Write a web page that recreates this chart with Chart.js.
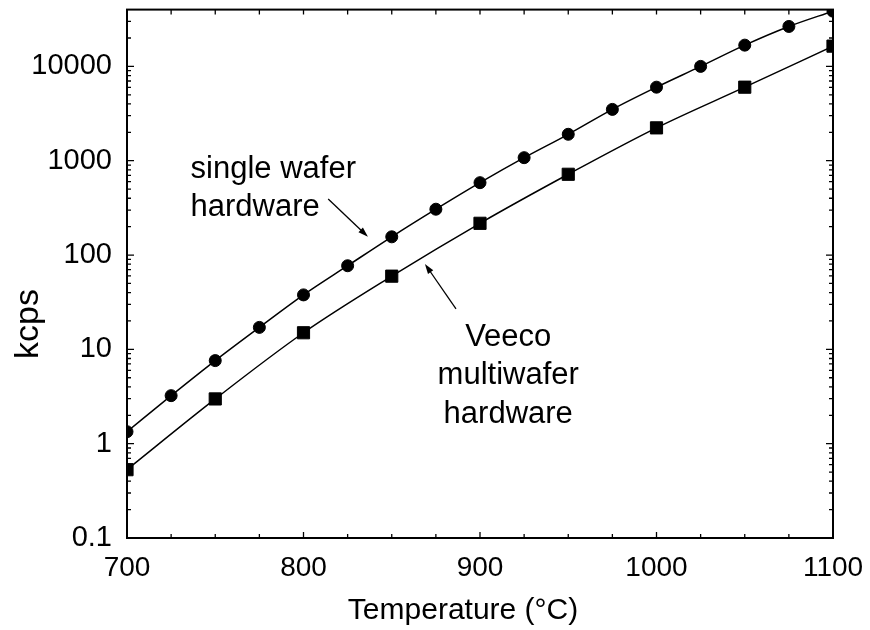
<!DOCTYPE html>
<html>
<head>
<meta charset="utf-8">
<script src="https://cdn.jsdelivr.net/npm/chart.js@4.4.0/dist/chart.umd.min.js"></script>
<style>
  html, body { margin: 0; padding: 0; background: #fff; }
</style>
</head>
<body>
<canvas id="chart" width="870" height="630"></canvas>
<script>
// ---- values ----
const tempSingle = [700, 725, 750, 775, 800, 825, 850, 875, 900, 925, 950, 975, 1000, 1025, 1050, 1075, 1100];
const kcpsSingle = [1.34, 3.23, 7.6, 17.1, 37.8, 77, 156, 306, 585, 1077, 1906, 3500, 6020, 10000, 16800, 26500, 38500];
const tempMulti = [700, 750, 800, 850, 900, 950, 1000, 1050, 1100];
const kcpsMulti = [0.53, 2.98, 15.0, 59.7, 217, 718, 2230, 6020, 16400];
const xTicks = [700, 800, 900, 1000, 1100];
const yTicks = [0.1, 1, 10, 100, 1000, 10000];
const labelSingle = ['single wafer', 'hardware'];
const labelMulti = ['Veeco', 'multiwafer', 'hardware'];

const FONT = '"Liberation Sans", Arial, Helvetica, sans-serif';

const toPoints = (xs, ys) => xs.map((x, i) => ({ x, y: ys[i] }));

function arrow(ctx, x1, y1, x2, y2) {
  const ang = Math.atan2(y2 - y1, x2 - x1);
  const len = 10, half = 3.2;
  ctx.beginPath();
  ctx.moveTo(x1, y1);
  ctx.lineTo(x2 - Math.cos(ang) * len * 0.8, y2 - Math.sin(ang) * len * 0.8);
  ctx.stroke();
  ctx.beginPath();
  ctx.moveTo(x2, y2);
  ctx.lineTo(x2 - Math.cos(ang) * len + Math.sin(ang) * half, y2 - Math.sin(ang) * len - Math.cos(ang) * half);
  ctx.lineTo(x2 - Math.cos(ang) * len - Math.sin(ang) * half, y2 - Math.sin(ang) * len + Math.cos(ang) * half);
  ctx.closePath();
  ctx.fill();
}

// frame, inward ticks, axis titles and the two callouts
const framePlugin = {
  id: 'frame',
  afterDatasetsDraw(chart) {
    const { ctx, chartArea: a, scales: { x, y } } = chart;
    ctx.save();
    ctx.strokeStyle = '#000';
    ctx.fillStyle = '#000';

    ctx.lineWidth = 1.3;
    ctx.beginPath();
    for (let t = x.min; t <= x.max; t += 25) {
      const px = x.getPixelForValue(t);
      const big = t % 100 === 0;
      ctx.moveTo(px, a.bottom); ctx.lineTo(px, a.bottom - (big ? 6 : 4));
      ctx.moveTo(px, a.top); ctx.lineTo(px, a.top + 5);
    }
    for (const d of yTicks) {
      for (let m = 1; m <= 9; m++) {
        const v = d * m;
        if (v >= y.max * 0.999) continue;
        const py = y.getPixelForValue(v);
        const len = m === 1 ? 7 : 4;
        ctx.moveTo(a.left, py); ctx.lineTo(a.left + len, py);
        ctx.moveTo(a.right, py); ctx.lineTo(a.right - len, py);
      }
    }
    ctx.stroke();

    ctx.lineWidth = 2;
    ctx.strokeRect(a.left, a.top, a.right - a.left, a.bottom - a.top);

    // axis titles
    ctx.textAlign = 'center';
    ctx.textBaseline = 'alphabetic';
    ctx.font = '30px ' + FONT;
    ctx.fillText('Temperature (\u00B0C)', a.left + (a.right - a.left) * 0.476, 619);
    ctx.save();
    ctx.translate(38, a.top + (a.bottom - a.top) * 0.595);
    ctx.rotate(-Math.PI / 2);
    ctx.font = '34px ' + FONT;
    ctx.fillText('kcps', 0, 0);
    ctx.restore();

    // callouts
    ctx.font = '31px ' + FONT;
    ctx.textAlign = 'left';
    let bx = x.getPixelForValue(736), by = y.getPixelForValue(656);
    labelSingle.forEach((s, i) => ctx.fillText(s, bx, by + i * 38));
    ctx.textAlign = 'center';
    bx = x.getPixelForValue(916); by = y.getPixelForValue(10.9);
    labelMulti.forEach((s, i) => ctx.fillText(s, bx, by + i * 38.5));

    ctx.lineWidth = 1.3;
    arrow(ctx, x.getPixelForValue(814), y.getPixelForValue(393), x.getPixelForValue(836.5), y.getPixelForValue(156));
    arrow(ctx, x.getPixelForValue(886.4), y.getPixelForValue(26.9), x.getPixelForValue(868.8), y.getPixelForValue(80.5));
    ctx.restore();
  }
};

const lineStyle = {
  borderColor: '#000',
  borderWidth: 1.5,
  pointBackgroundColor: '#000',
  pointBorderColor: '#000',
  pointBorderWidth: 1,
  cubicInterpolationMode: 'monotone',
  clip: 0
};

new Chart(document.getElementById('chart'), {
  type: 'line',
  data: {
    datasets: [
      { ...lineStyle, label: 'single wafer hardware', data: toPoints(tempSingle, kcpsSingle), pointStyle: 'circle', pointRadius: 6 },
      { ...lineStyle, label: 'Veeco multiwafer hardware', data: toPoints(tempMulti, kcpsMulti), pointStyle: 'rect', pointRadius: 8.6 }
    ]
  },
  options: {
    responsive: false,
    animation: false,
    layout: { padding: { top: 8, right: 37, left: 0, bottom: 0 } },
    plugins: { legend: { display: false }, tooltip: { enabled: false } },
    scales: {
      x: {
        type: 'linear', min: 700, max: 1100,
        grid: { display: false, drawTicks: false },
        border: { display: false },
        afterBuildTicks: s => { s.ticks = xTicks.map(v => ({ value: v })); },
        afterFit: s => { s.height = 92; s.paddingLeft = 0; s.paddingRight = 0; },
        ticks: { color: '#000', font: { family: FONT, size: 28 }, padding: 13, maxRotation: 0, autoSkip: false, callback: v => String(v) }
      },
      y: {
        type: 'logarithmic', min: 0.1, max: 40000,
        grid: { display: false, drawTicks: false },
        border: { display: false },
        afterBuildTicks: s => { s.ticks = yTicks.map(v => ({ value: v })); },
        afterFit: s => { s.width = 127; s.paddingTop = 0; s.paddingBottom = 0; },
        ticks: { color: '#000', font: { family: FONT, size: 29 }, padding: 15, autoSkip: false, callback: v => String(v) }
      }
    }
  },
  plugins: [framePlugin]
});
</script>
</body>
</html>
